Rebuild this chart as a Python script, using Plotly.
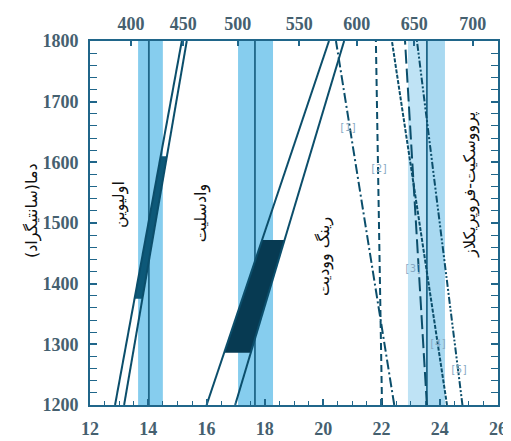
import numpy as np
import plotly.graph_objects as go

# ---------------- data ----------------
pressure_ticks = [12, 14, 16, 18, 20, 22, 24, 26]
depth_tick_labels = ["400", "450", "500", "550", "600", "650", "700"]
depth_tick_pressure = [13.41, 15.20, 17.07, 19.18, 21.15, 23.13, 25.13]
temp_ticks = [1200, 1300, 1400, 1500, 1600, 1700, 1800]

# observed discontinuity bands (GPa): left edge, centre line, right edge
band_left = [13.65, 17.08, 22.91]
band_center = [14.02, 17.66, 23.56]
band_right = [14.50, 18.28, 24.18]
band_color_left = ["#86cdee", "#86cdee", "#bfe3f5"]
band_color_right = ["#86cdee", "#86cdee", "#a9d9f1"]

# phase boundary lines: pressure at T = 1200 and T = 1800
line_T = [1200, 1800]
ol_wd_a = [12.86, 15.15]
ol_wd_b = [13.17, 15.32]
wd_rw_a = [16.00, 20.20]
wd_rw_b = [16.98, 20.72]
pv_1 = [22.44, 20.44]
pv_2 = [22.02, 21.81]
pv_3 = [23.56, 22.81]
pv_4 = [24.25, 22.36]
pv_5 = [24.78, 23.22]

ol_fill_T = [1375, 1610]
wd_fill_T = [1286, 1472]

ref_labels = ["[1]", "[2]", "[3]", "[4]", "[5]"]
ref_x = [20.85, 21.90, 23.08, 23.94, 24.66]
ref_T = [1657, 1590, 1425, 1302, 1258]

phase_names = ["اولیوین", "وادسلیت", "رینگ وودیت", "پرووسکیت-فروپریکلاز"]
phase_x = [13.0, 15.81, 20.03, 25.04]
phase_T = [1530, 1516, 1444, 1563]

y_title = "دما(سانتیگراد)"

# ---------------- styling ----------------
LINE = "#0b4e6b"
AXIS = "#20668a"
TICKFONT = dict(family="Liberation Serif, Times New Roman, serif", size=18,
                color="#45606f", weight="bold")
FA_FONT = "DejaVu Sans, Noto Sans, sans-serif"
RLM = "\u200f"

fig = go.Figure()

# bands as shapes
shapes = []
for l, c, r, cl, cr in zip(band_left, band_center, band_right,
                           band_color_left, band_color_right):
    shapes.append(dict(type="rect", xref="x", yref="paper", x0=l, x1=c, y0=0, y1=1,
                       fillcolor=cl, line=dict(width=0), layer="below"))
    shapes.append(dict(type="rect", xref="x", yref="paper", x0=c, x1=r, y0=0, y1=1,
                       fillcolor=cr, line=dict(width=0), layer="below"))
    shapes.append(dict(type="line", xref="x", yref="paper", x0=c, x1=c, y0=0, y1=1,
                       line=dict(color="#1f6688", width=1.8), layer="below"))


def band_poly(a, b, Ts):
    xa = np.interp(Ts, line_T, a)
    xb = np.interp(Ts, line_T, b)
    xs = [xa[0], xa[1], xb[1], xb[0], xa[0]]
    ys = [Ts[0], Ts[1], Ts[1], Ts[0], Ts[0]]
    return xs, ys


for a, b, Ts, col in [(ol_wd_a, ol_wd_b, ol_fill_T, "#0d5878"),
                      (wd_rw_a, wd_rw_b, wd_fill_T, "#073a52")]:
    xs, ys = band_poly(a, b, Ts)
    fig.add_trace(go.Scatter(x=xs, y=ys, mode="lines", fill="toself",
                             fillcolor=col, line=dict(width=0, color=col),
                             hoverinfo="skip", showlegend=False))

solid_lines = [ol_wd_a, ol_wd_b, wd_rw_a, wd_rw_b]
for xs in solid_lines:
    fig.add_trace(go.Scatter(x=xs, y=line_T, mode="lines",
                             line=dict(color=LINE, width=2), showlegend=False))

pv_lines = [pv_1, pv_2, pv_3, pv_4, pv_5]
pv_dash = ["10px,3px,2px,3px", "7px,4px", "14px,5px", "4px,1.5px",
           "7px,2px,2px,2px,2px,2px"]
for xs, d in zip(pv_lines, pv_dash):
    fig.add_trace(go.Scatter(x=xs, y=line_T, mode="lines",
                             line=dict(color=LINE, width=2, dash=d),
                             showlegend=False))

# dummy trace for top axis
fig.add_trace(go.Scatter(x=[12, 26], y=[1200, 1200], xaxis="x2", mode="lines",
                         line=dict(width=0), hoverinfo="skip", showlegend=False))

annotations = []
for t, x, y in zip(ref_labels, ref_x, ref_T):
    annotations.append(dict(text=t, x=x, y=y, xref="x", yref="y", showarrow=False,
                            font=dict(size=10, color="#86a8c2",
                                      family="DejaVu Sans Mono, monospace")))
for t, x, y in zip(phase_names, phase_x, phase_T):
    annotations.append(dict(text=t + RLM, x=x, y=y, xref="x", yref="y", showarrow=False,
                            textangle=-90,
                            font=dict(size=16, color="#111111", family=FA_FONT)))
annotations.append(dict(text=y_title + RLM, x=-0.172, y=0.535, xref="paper",
                        yref="paper", showarrow=False, textangle=-90,
                        font=dict(size=16, color="#111111", family=FA_FONT)))

fig.update_layout(
    width=503, height=433,
    margin=dict(l=82, r=13, t=33, b=36, autoexpand=False),
    paper_bgcolor="white", plot_bgcolor="white",
    shapes=shapes, annotations=annotations,
    xaxis=dict(range=[12, 26], tickvals=pressure_ticks, ticks="inside", ticklen=6,
               tickwidth=1.5, tickcolor=AXIS, showline=True, linecolor=AXIS,
               linewidth=2, mirror=True, showgrid=False, zeroline=False,
               tickfont=TICKFONT, ticklabelstandoff=6, automargin=False,
               minor=dict(dtick=0.5, ticks="inside", ticklen=4, tickcolor=AXIS,
                          tickwidth=1.2, showgrid=False)),
    xaxis2=dict(range=[12, 26], overlaying="x", side="top", tickvals=depth_tick_pressure,
                ticktext=depth_tick_labels, ticks="inside", ticklen=5, tickwidth=1.5,
                tickcolor=AXIS, showline=False, showgrid=False, zeroline=False,
                tickfont=TICKFONT, ticklabelstandoff=6, automargin=False),
    yaxis=dict(range=[1200, 1800], tickvals=temp_ticks, ticks="inside", ticklen=7,
               tickwidth=1.5, tickcolor=AXIS, showline=True, linecolor=AXIS,
               linewidth=2, mirror="allticks", showgrid=False, zeroline=False,
               tickfont=TICKFONT, ticklabelstandoff=6, automargin=False,
               minor=dict(dtick=20, ticks="inside", ticklen=4, tickcolor=AXIS,
                          tickwidth=1.2, showgrid=False)),
)

fig.write_html("out.html")
